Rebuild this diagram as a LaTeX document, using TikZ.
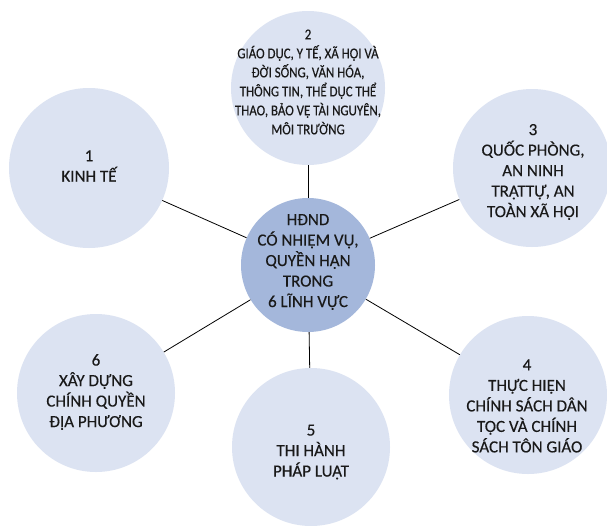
\documentclass[tikz,border=0pt]{standalone}
\usepackage{fontspec}
\setmainfont{Carlito}[FakeBold=0.35]
\newfontfamily\condfont[FakeStretch=0.86,FakeBold=0.35]{Carlito}
\newfontfamily\bodyfont[FakeBold=0.35]{Carlito}
\definecolor{bubfill}{RGB}{220,227,242}
\definecolor{hubfill}{RGB}{164,183,219}
\begin{document}
\begin{tikzpicture}[x=1pt,y=-1pt,
  bub/.style={circle,fill=bubfill,inner sep=0pt,minimum size=#1},
  hub/.style={circle,fill=hubfill,inner sep=0pt,minimum size=134pt},
  txt/.style={align=center,font=\bodyfont\fontsize{17}{20.5}\selectfont,text=black!90},
  smalltxt/.style={align=center,font=\condfont\fontsize{15}{19}\selectfont,text=black!90},
  hubtxt/.style={align=center,font=\bodyfont\fontsize{17}{20.5}\selectfont,text=black!90},
  conn/.style={draw=black,line width=0.8pt}]
\useasboundingbox (0,0) rectangle (607,525);
\clip (0,0) rectangle (607,525);
\fill[white] (0,0) rectangle (607,525);
\node[hub] (c) at (308,265) {};
\node[bub=160pt] (n1) at (89,168) {};
\node[bub=154pt] (n2) at (308,88) {};
\node[bub=158pt] (n3) at (532,168) {};
\node[bub=158pt] (n4) at (528,395) {};
\node[bub=158pt] (n5) at (311,447) {};
\node[bub=158pt] (n6) at (96,393) {};
\draw[conn] (c) -- (n1);
\draw[conn] (c) -- (n2);
\draw[conn] (c) -- (n3);
\draw[conn] (c) -- (n4);
\draw[conn] (c) -- (n5);
\draw[conn] (c) -- (n6);
\node[hubtxt] (tc) at (308,262) {HĐND\\CÓ NHIỆM VỤ,\\QUYỀN HẠN\\TRONG\\6 LĨNH VỰC};
\node[txt] (t1) at (89,166) {1\\KINH TẾ};
\node[smalltxt] (t2) at (308,82) {2\\GIÁO DỤC, Y TẾ, XÃ HỘI VÀ\\ĐỜI SỐNG, VĂN HÓA,\\THÔNG TIN, THỂ DỤC THỂ\\THAO, BẢO VỆ TÀI NGUYÊN,\\MÔI TRƯỜNG};
\node[txt] (t3) at (533,172) {3\\QUỐC PHÒNG,\\AN NINH\\TRẬTTỰ, AN\\TOÀN XÃ HỘI};
\node[txt] (t4) at (527,406) {4\\THỰC HIỆN\\CHÍNH SÁCH DÂN\\TỘC VÀ CHÍNH\\SÁCH TÔN GIÁO};
\node[txt] (t5) at (311,452) {5\\THI HÀNH\\PHÁP LUẬT};
\node[txt] (t6) at (96,392) {6\\XÂY DỰNG\\CHÍNH QUYỀN\\ĐỊA PHƯƠNG};
\end{tikzpicture}
\end{document}
